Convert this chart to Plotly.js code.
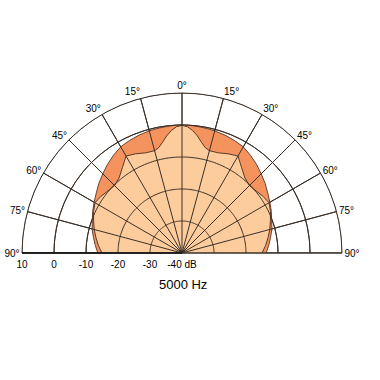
<!DOCTYPE html>
<html>
<head>
<meta charset="utf-8">
<script src="https://cdn.plot.ly/plotly-3.0.1.min.js"></script>
<style>html,body{margin:0;padding:0;background:#fff}#chart{width:380px;height:380px}</style>
</head>
<body>
<div id="chart"></div>
<script>
// Angles in degrees (0 = on axis, negative = left, positive = right)
const angles = [-90,-85,-80,-75,-70,-65,-60,-55,-50,-45,-40,-35,-30,-25,-20,-15,-12.5,-10,-7.5,-5,-2.5,0,2.5,5,7.5,10,12.5,15,20,25,30,35,40,45,50,55,60,65,70,75,80,85,90];
// Outer (darker) response, dB
const outerDb = [-13.7,-12.8,-11.9,-10.9,-10.2,-9.2,-8.3,-7.3,-6.1,-5.0,-3.8,-2.7,-1.7,-1.2,-0.8,-0.5,-0.4,-0.3,-0.2,-0.1,0,0,0,-0.1,-0.2,-0.3,-0.4,-0.5,-0.8,-1.2,-1.7,-2.7,-3.8,-5.0,-6.1,-7.3,-8.3,-9.2,-10.2,-10.9,-11.9,-12.8,-13.7];
// Inner (lighter) response, dB
const innerDb = [-15.0,-13.8,-12.7,-11.6,-10.6,-9.5,-8.6,-9.1,-9.8,-10.2,-9.4,-7.5,-5.0,-5.8,-6.7,-6.9,-6.3,-4.9,-3.1,-1.6,-0.5,-0.1,-0.5,-1.6,-3.1,-4.9,-6.3,-6.9,-6.7,-5.8,-5.0,-7.5,-9.4,-10.2,-9.8,-9.1,-8.6,-9.5,-10.6,-11.6,-12.7,-13.8,-15.0];
const angTickVals = [-90,-75,-60,-45,-30,-15,0,15,30,45,60,75,90];
const angTickText = ["90°","75°","60°","45°","30°","15°","0°","15°","30°","45°","60°","75°","90°"];
const radTickVals = [-40,-30,-20,-10,0,10];
const radTickText = ["-40 dB","-30","-20","-10","0","10"];
const chartTitle = "5000 Hz";

const gridColor = '#3a3028';
const traces = [
  {type:'scatterpolar', theta: angles, r: outerDb, mode:'lines', fill:'toself',
   fillcolor:'#f4935e', line:{color:'#6a4030', width:1}, hoverinfo:'skip'},
  {type:'scatterpolar', theta: angles, r: innerDb, mode:'lines', fill:'toself',
   fillcolor:'#fdcc9c', line:{color:'#5a3a28', width:1}, hoverinfo:'skip'}
];
// Grid drawn on top of the fills, derived from the axis tick arrays
const rMin = radTickVals[0], rMax = radTickVals[radTickVals.length-1];
angTickVals.forEach(a => traces.push({type:'scatterpolar', theta:[a,a], r:[rMin,rMax], mode:'lines',
  line:{color:gridColor, width:1}, hoverinfo:'skip'}));
const arcTheta = [];
for (let a = -90; a <= 90; a += 1) arcTheta.push(a);
radTickVals.slice(1).forEach(v => traces.push({type:'scatterpolar', theta:arcTheta, r:arcTheta.map(()=>v), mode:'lines',
  line:{color:gridColor, width:1}, hoverinfo:'skip'}));

const layout = {
  width:380, height:380,
  margin:{l:22, r:38, t:93, b:127},
  paper_bgcolor:'#ffffff',
  showlegend:false,
  font:{family:'"Liberation Sans", Arial, sans-serif', size:10, color:'#000'},
  polar:{
    domain:{x:[0,1], y:[0,1]},
    sector:[0,180],
    bgcolor:'#ffffff',
    angularaxis:{
      rotation:90, direction:'clockwise',
      tickmode:'array', tickvals:angTickVals, ticktext:angTickText,
      showgrid:true, gridcolor:gridColor, gridwidth:1,
      showline:true, linecolor:gridColor, linewidth:1,
      ticks:'', layer:'above traces',
      tickfont:{size:10, color:'#000'}
    },
    radialaxis:{
      range:[-40,10], angle:180, side:'counterclockwise',
      tickmode:'array', tickvals:radTickVals, ticktext:radTickText,
      showgrid:true, gridcolor:gridColor, gridwidth:1,
      showline:true, linecolor:'#111111', linewidth:1.5,
      ticks:'', layer:'above traces', tickangle:180,
      tickfont:{size:10, color:'#000'}
    }
  },
  title:{text:chartTitle, x:0.482, xanchor:'center', y:1-284/380, yref:'container', yanchor:'middle',
    font:{family:'"Liberation Sans", Arial, sans-serif', size:13, color:'#000'}}
};

Plotly.newPlot('chart', traces, layout, {displayModeBar:false, staticPlot:true});
</script>
</body>
</html>
